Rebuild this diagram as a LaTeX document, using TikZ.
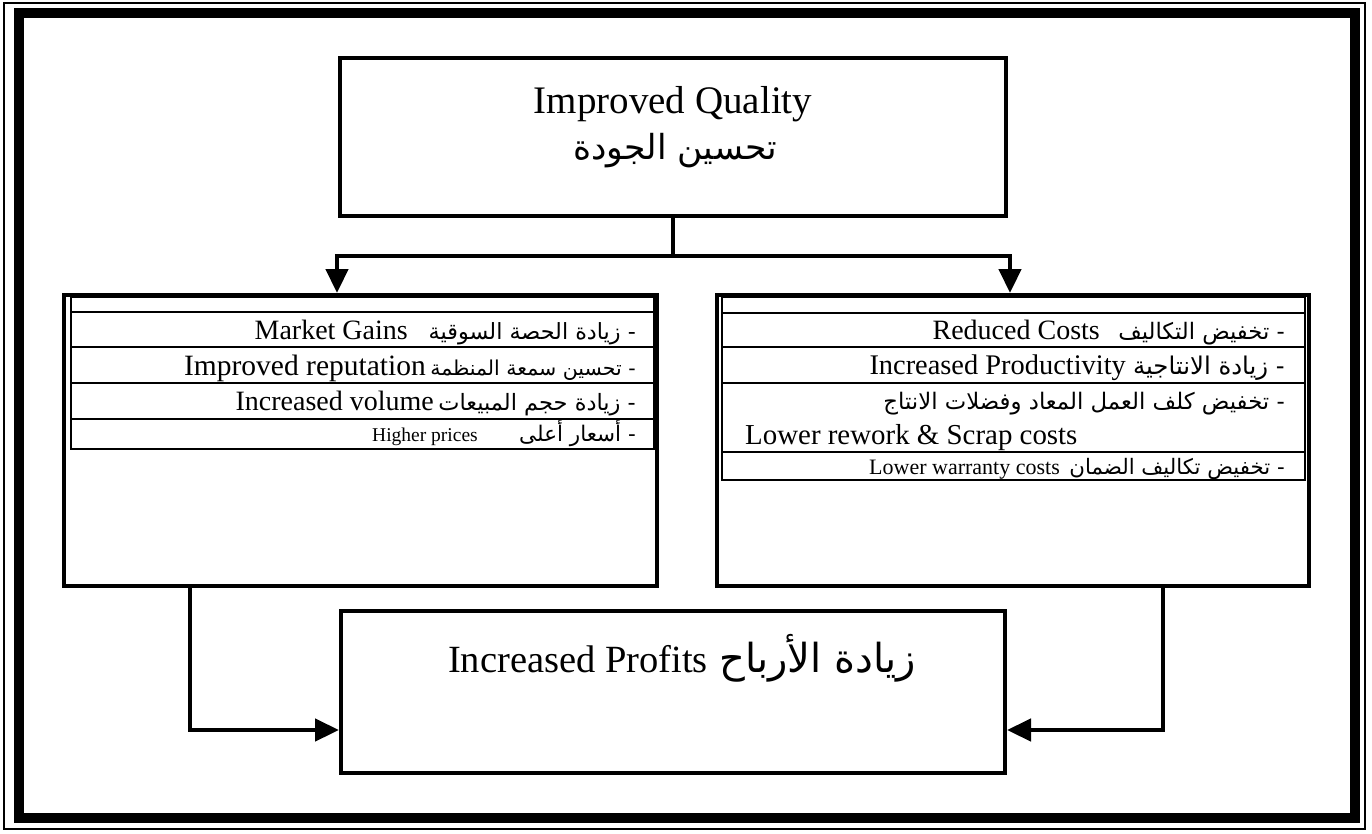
\documentclass[tikz,border=0pt]{standalone}
\usepackage{fontspec}
\setmainfont{Liberation Serif}
\newfontfamily\arabicfont[Script=Arabic]{DejaVu Sans}
\TeXXeTstate=1
\usetikzlibrary{arrows.meta}
\newcommand\arabtxt[1]{{\arabicfont\beginR #1\endR}}
\newcommand\fsz[1]{\fontsize{#1}{#1}\selectfont}
\begin{document}
\begin{tikzpicture}[x=1pt,y=-1pt,
  box/.style={draw, line width=4pt, inner sep=0pt},
  tablerule/.style={line width=2pt},
  conn/.style={line width=4.5pt},
  arr/.style={line width=4.5pt, -{Triangle[length=24pt,width=22pt]}},
  txt/.style={inner sep=0pt},
  en/.style={txt, anchor=base east},
  ar/.style={txt, anchor=base east},
]
\useasboundingbox (0,0) rectangle (1372,833);
% outer frame
\draw[line width=1.5pt] (4,3) rectangle (1365,829);
\draw[line width=10pt] (19,13) rectangle (1355,818);

% boxes
\node[box, minimum width=666pt, minimum height=158pt] (top) at (673,137) {};
\node[box, minimum width=593pt, minimum height=291pt] (left) at (360.5,440.5) {};
\node[box, minimum width=592pt, minimum height=291pt] (right) at (1012.5,440.5) {};
\node[box, minimum width=664pt, minimum height=162pt] (bottom) at (673,692) {};

% tables
\draw[tablerule] (71,297) rectangle (654,449);
\foreach \yy in {312,347,383,419} \draw[tablerule] (71,\yy) -- (654,\yy);
\draw[tablerule] (722,297) rectangle (1305,480);
\foreach \yy in {313,347,383,452} \draw[tablerule] (722,\yy) -- (1305,\yy);

% top text
\node[txt, anchor=base] (tq) at (673,113) {\fsz{39}Improved Quality};
\node[txt, anchor=base] (tqa) at (675,159) {\fsz{34.5}\arabtxt{تحسين الجودة}};

% left rows
\node[en] (l1) at (408,339) {\fsz{28}Market Gains};
\node[ar] (l1a) at (636,339) {\fsz{22.3}\arabtxt{- زيادة الحصة السوقية}};
\node[en] (l2) at (426,375) {\fsz{29.5}Improved reputation};
\node[ar] (l2a) at (636,375) {\fsz{20.5}\arabtxt{- تحسين سمعة المنظمة}};
\node[en] (l3) at (434,410) {\fsz{28}Increased volume};
\node[ar] (l3a) at (636,410) {\fsz{22.5}\arabtxt{- زيادة حجم المبيعات}};
\node[en] (l4) at (478,441) {\fsz{19.5}Higher prices};
\node[ar] (l4a) at (636,441) {\fsz{21.5}\arabtxt{- أسعار أعلى}};

% right rows
\node[en] (r1) at (1100,339) {\fsz{28}Reduced Costs};
\node[ar] (r1a) at (1285,339) {\fsz{22.7}\arabtxt{- تخفيض التكاليف}};
\node[en] (r2) at (1126,374) {\fsz{28.4}Increased Productivity};
\node[ar] (r2a) at (1285,374) {\fsz{24.4}\arabtxt{- زيادة الانتاجية}};
\node[ar] (r3a) at (1285,409) {\fsz{22.8}\arabtxt{- تخفيض كلف العمل المعاد وفضلات الانتاج}};
\node[txt, anchor=base west] (r3) at (745,444) {\fsz{28.9}Lower rework \& Scrap costs};
\node[en] (r4) at (1060,474) {\fsz{22}Lower warranty costs};
\node[ar] (r4a) at (1285,474) {\fsz{21.3}\arabtxt{- تخفيض تكاليف الضمان}};

% bottom text
\node[en] (bp) at (708,672) {\fsz{38.5}Increased Profits};
\node[ar] (bpa) at (916,672) {\fsz{40}\arabtxt{زيادة الأرباح}};

% connectors
\coordinate (la) at (337,256);
\coordinate (ra) at (1010,256);
\draw[conn] (top.south) -- (top.south |- la);
\draw[conn] ([xshift=-2.25pt]la) -- ([xshift=2.25pt]ra);
\draw[arr] (la) -- (la |- left.north);
\draw[arr] (ra) -- (ra |- right.north);
\coordinate (bl) at (190,730);
\coordinate (br) at (1163,730);
\draw[arr] (left.south -| bl) |- (bottom.west |- bl);
\draw[arr] (right.south -| br) |- (bottom.east |- br);
\end{tikzpicture}
\end{document}
